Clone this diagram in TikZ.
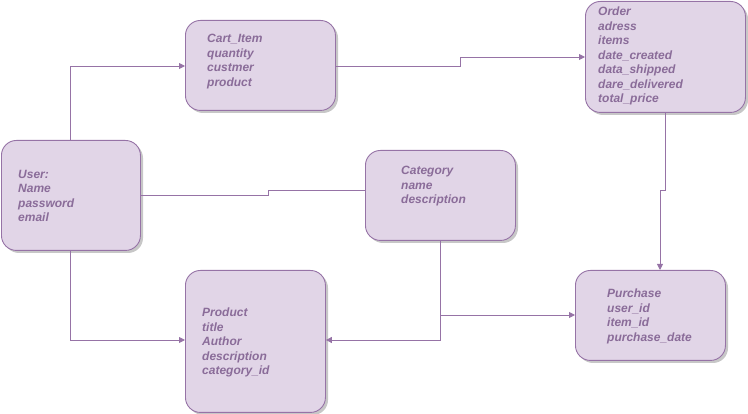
\documentclass[tikz,border=0pt]{standalone}
\usepackage{fontspec}
\setmainfont{Liberation Sans}
\usetikzlibrary{arrows.meta}
\definecolor{boxfill}{HTML}{E1D5E7}
\definecolor{boxline}{HTML}{9673A6}
\definecolor{boxtext}{HTML}{8A6C99}
\tikzset{
  entity/.style={draw=boxline, fill=boxfill, rounded corners=15pt, line width=0.9pt,
    inner sep=0pt, anchor=north west},
  fields/.style={anchor=north west, align=left, inner sep=0pt, text=boxtext,
    font=\fontsize{12}{14.5}\selectfont\bfseries\itshape},
  link/.style={draw=boxline, line width=0.9pt},
  arr/.style={link, -{Triangle[length=6pt,width=6pt]}},
}
\begin{document}
\begin{tikzpicture}[x=1pt,y=-1pt]
\useasboundingbox (0,0) rectangle (748,414);
% shadows
\foreach \a/\b/\c/\d in {1/140/140/250, 185/20/335/110, 585/1/745/112, 365/150/515/240, 185/270/325/412, 575/270/725/360}{
  \fill[black!22, rounded corners=15pt] (\a+3,\b+3) rectangle (\c+3,\d+3);
}
\node[entity, minimum width=139pt, minimum height=110pt] (user) at (1,140) {};
\node[entity, minimum width=150pt, minimum height=90pt] (cart) at (185,20) {};
\node[entity, minimum width=160pt, minimum height=111pt] (order) at (585,1) {};
\node[entity, minimum width=150pt, minimum height=90pt] (cat) at (365,150) {};
\node[entity, minimum width=140pt, minimum height=142pt] (prod) at (185,270) {};
\node[entity, minimum width=150pt, minimum height=90pt] (purch) at (575,270) {};

\node[fields] (usert) at (18,170) {User:\\Name\\password\\email};
\node[fields] (cartt) at (207,34) {Cart\_Item\\quantity\\custmer\\product};
\node[fields] (ordert) at (598,7) {Order\\adress\\items\\date\_created\\data\_shipped\\dare\_delivered\\total\_price};
\node[fields] (catt) at (401,166) {Category\\name\\description};
\node[fields] (prodt) at (202,308) {Product\\title\\Author\\description\\category\_id};
\node[fields] (purcht) at (607,289) {Purchase\\user\_id\\item\_id\\purchase\_date};

\coordinate (j) at (440,315);
\draw[arr] (user.north -| 70,0) -- (70,66) -- (cart.west |- 0,66);
\draw[arr] (user.south -| 70,0) -- (70,340) -- (prod.west |- 0,340);
\draw[link] (user.east |- 0,195) -- (268,195) -- (268,190) -- (cat.west |- 0,190);
\draw[arr] (cart.east |- 0,66) -- (460,66) -- (460,57) -- (order.west |- 0,57);
\draw[arr] (order.south -| 665,0) -- (665,190) -- (660,190) -- (purch.north -| 660,0);
\draw[arr] (cat.south -| 440,0) -- (440,340) -- (prod.east |- 0,340);
\draw[arr] (j) -- (purch.west |- j);
\end{tikzpicture}
\end{document}
